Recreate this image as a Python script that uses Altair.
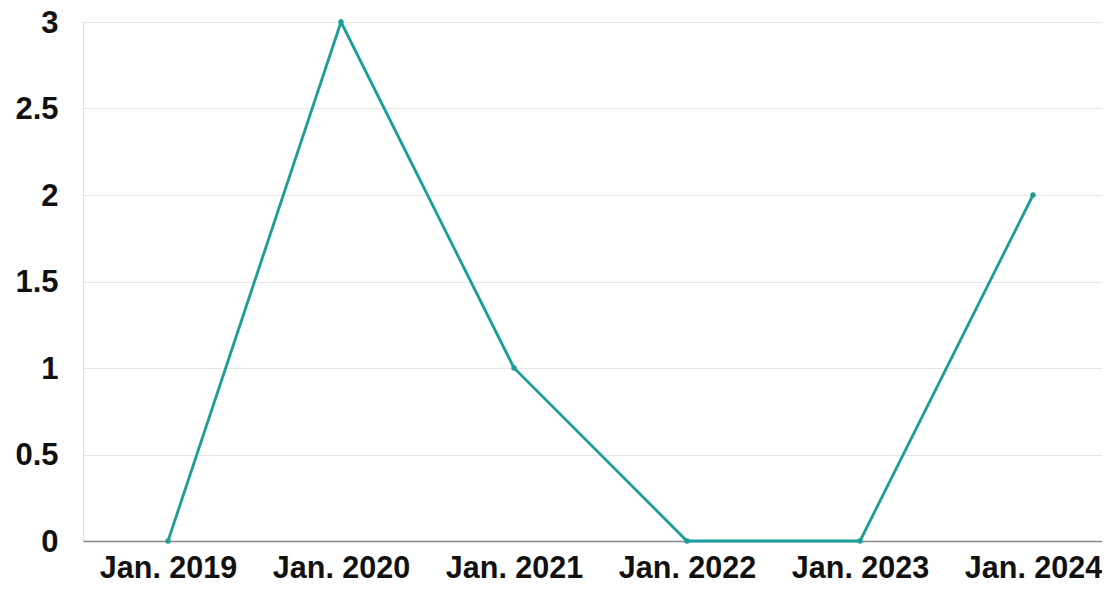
import altair as alt
import pandas as pd

periods = ["Jan. 2019", "Jan. 2020", "Jan. 2021", "Jan. 2022", "Jan. 2023", "Jan. 2024"]
values = [0, 3, 1, 0, 0, 2]

df = pd.DataFrame({"idx": list(range(len(periods))), "period": periods, "value": values})

FONT = "Liberation Sans"
TEAL = "#1b9e97"

label_array = "[" + ",".join("'" + p + "'" for p in periods) + "]"

base = alt.Chart(df).encode(
    x=alt.X(
        "idx:Q",
        scale=alt.Scale(domain=[-0.4913, 5.3988], nice=False, zero=False),
        axis=alt.Axis(
            title=None,
            values=list(range(len(periods))),
            labelExpr=label_array + "[datum.value]",
            labelAngle=0,
            ticks=False,
            grid=False,
            domainColor="#888888",
            domainWidth=1.5,
            labelFont=FONT,
            labelFontSize=30.5,
            labelFontWeight="bold",
            labelColor="#111111",
            labelPadding=12,
            labelFlush=False,
            labelOverlap=False,
        ),
    ),
    y=alt.Y(
        "value:Q",
        scale=alt.Scale(domain=[0, 3], nice=False),
        axis=alt.Axis(
            title=None,
            values=[0, 0.5, 1, 1.5, 2, 2.5, 3],
            format=".1~f",
            domain=False,
            ticks=False,
            gridColor="#e6e6e6",
            labelFont=FONT,
            labelFontSize=31,
            labelFontWeight="bold",
            labelColor="#111111",
            labelPadding=25,
            labelOffset=1,
        ),
    ),
)

line = base.mark_line(color=TEAL, strokeWidth=2.8)
pts = base.mark_point(color=TEAL, filled=True, size=30, opacity=1)

chart = (
    alt.layer(line, pts)
    .properties(
        width=1019,
        height=519,
        autosize=alt.AutoSizeParams(type="none"),
        padding={"left": 75, "top": 14, "right": 0, "bottom": 41},
    )
    .configure_view(stroke=None)
    .configure(background="white")
)

chart.save("out.html", embed_options={"renderer": "svg", "actions": False})
